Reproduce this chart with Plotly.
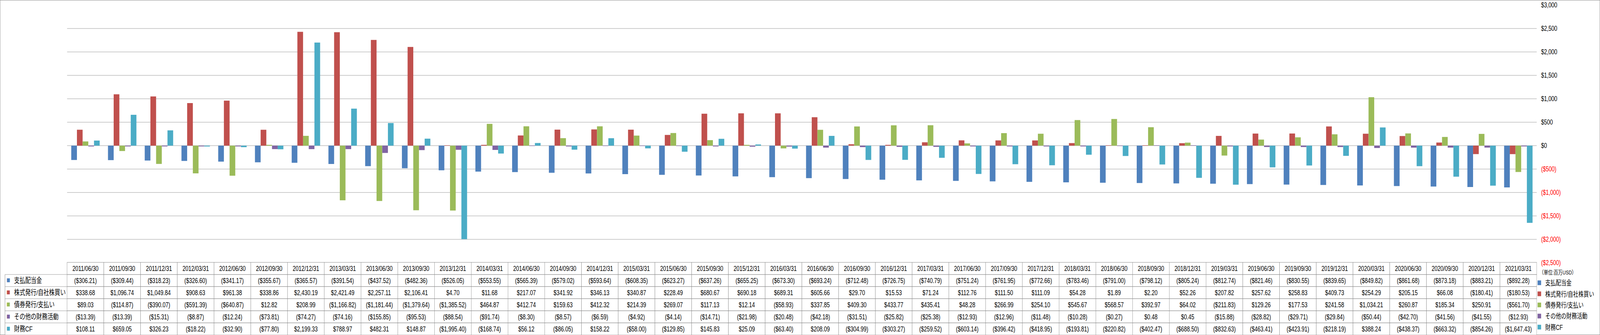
import plotly.graph_objects as go

W, H = 5461, 858

dates = ["2011/06/30", "2011/09/30", "2011/12/31", "2012/03/31", "2012/06/30", "2012/09/30",
         "2012/12/31", "2013/03/31", "2013/06/30", "2013/09/30", "2013/12/31", "2014/03/31",
         "2014/06/30", "2014/09/30", "2014/12/31", "2015/03/31", "2015/06/30", "2015/09/30",
         "2015/12/31", "2016/03/31", "2016/06/30", "2016/09/30", "2016/12/31", "2017/03/31",
         "2017/06/30", "2017/09/30", "2017/12/31", "2018/03/31", "2018/06/30", "2018/09/30",
         "2018/12/31", "2019/03/31", "2019/06/30", "2019/09/30", "2019/12/31", "2020/03/31",
         "2020/06/30", "2020/09/30", "2020/12/31", "2021/03/31"]

dividends = [-306.21, -309.44, -318.23, -326.60, -341.17, -355.67, -365.57, -391.54, -437.52, -482.36,
             -526.05, -553.55, -565.39, -579.02, -593.64, -608.35, -623.27, -637.26, -655.25, -673.30,
             -693.24, -712.48, -726.75, -740.79, -751.24, -761.95, -772.66, -783.46, -791.00, -798.12,
             -805.24, -812.74, -821.46, -830.55, -839.65, -849.82, -861.68, -873.18, -883.21, -892.28]

stock = [338.68, 1096.74, 1049.84, 908.63, 961.38, 338.86, 2430.19, 2421.49, 2257.11, 2106.41,
         4.70, 11.68, 217.07, 341.92, 346.13, 340.87, 228.49, 680.67, 690.18, 689.31,
         605.66, 29.70, 15.53, 71.24, 112.76, 111.50, 111.09, 54.28, 1.89, 2.20,
         52.26, 207.82, 257.62, 258.83, 409.73, 254.29, 205.15, 66.08, -180.41, -180.53]

debt = [89.03, -114.87, -390.07, -591.39, -640.87, 12.82, 208.99, -1166.82, -1181.44, -1379.64,
        -1385.52, 464.87, 412.74, 159.63, 412.32, 214.39, 269.07, 117.13, 12.14, -58.93,
        337.85, 409.30, 433.77, 435.41, 48.28, 266.99, 254.10, 545.67, 568.57, 392.97,
        64.02, -211.83, 129.26, 177.53, 241.58, 1034.21, 260.87, 185.34, 250.91, -561.70]

other = [-13.39, -13.39, -15.31, -8.87, -12.24, -73.81, -74.27, -74.16, -155.85, -95.53,
         -88.54, -91.74, -8.30, -8.57, -6.59, -4.92, -4.14, -14.71, -21.98, -20.48,
         -42.18, -31.51, -25.82, -25.38, -12.93, -12.96, -11.48, -10.28, -0.27, 0.48,
         0.45, -15.88, -28.82, -29.71, -29.84, -50.44, -42.70, -41.56, -41.55, -12.93]

fin_cf = [108.11, 659.05, 326.23, -18.22, -32.90, -77.80, 2199.33, 788.97, 482.31, 148.87,
          -1995.40, -168.74, 56.12, -86.05, 158.22, -58.00, -129.85, 145.83, 25.09, -63.40,
          208.09, -304.99, -303.27, -259.52, -603.14, -396.42, -418.95, -193.81, -220.82, -402.47,
          -688.50, -832.63, -463.41, -423.91, -218.19, 388.24, -438.37, -663.32, -854.26, -1647.43]

series_names = ["支払配当金", "株式発行/自社株買い", "債券発行/支払い", "その他の財務活動", "財務CF"]
series_values = [dividends, stock, debt, other, fin_cf]
colors = ["#4F81BD", "#C0504D", "#9BBB59", "#8064A2", "#4BACC6"]

y_ticks = [3000, 2500, 2000, 1500, 1000, 500, 0, -500, -1000, -1500, -2000, -2500]
unit_label = "（単位:百万USD）"

GRID = "#8C8C8C"
NONE = "rgba(0,0,0,0)"
FONT = "Liberation Sans, Noto Sans CJK JP, sans-serif"


def money(v, decimals=2):
    s = f"${abs(v):,.{decimals}f}"
    return f"({s})" if v < 0 else s


def tick_text(v):
    s = money(v, 0)
    return f'<span style="color:#FF0000">{s}</span>' if v < 0 else s


# pixel geometry of the reference (converted to fractions of the figure)
plot_left, plot_right = 229, 5245
plot_top, plot_bottom = 13, 673
table_left, key_right = 17, 40
row_h = 31
table_top = H - 6 * row_h
n = len(dates)

fig = go.Figure()

for name, vals, col in zip(series_names, series_values, colors):
    fig.add_trace(go.Bar(
        x=dates, y=vals, name=name, marker=dict(color=col, line=dict(width=0)),
        legendgroup=name, xaxis="x", yaxis="y",
    ))

# data table: legend-key column, label column, one column per quarter
key_cells = ["■"] * len(series_names)
cell_columns = [key_cells, series_names] + [[money(v[i]) for v in series_values] for i in range(n)]
col_widths = [key_right - table_left, plot_left - key_right] + [(plot_right - plot_left) / n] * n
line_colors = [NONE, NONE] + [GRID] * n
font_colors = [colors, "black"] + ["black"] * n
font_sizes = [13, 19] + [18] * n
font_families = ["DejaVu Sans", FONT] + [FONT] * n

fig.add_trace(go.Table(
    domain=dict(x=[table_left / W, plot_right / W], y=[0, (H - table_top) / H]),
    columnwidth=col_widths,
    header=dict(values=["", ""] + dates, height=row_h, align="center",
                fill=dict(color="white"),
                line=dict(color=line_colors, width=1),
                font=dict(family=FONT, size=18, color="black")),
    cells=dict(values=cell_columns, height=row_h,
               align=["center", "left"] + ["center"] * n,
               fill=dict(color="white"),
               line=dict(color=line_colors, width=1),
               font=dict(family=font_families, size=font_sizes, color=font_colors)),
))

# borders of the row-label cells
shapes = [dict(type="rect", xref="paper", yref="paper", x0=0, x1=1, y0=0, y1=1,
               line=dict(color=GRID, width=2), fillcolor=NONE, layer="below")]
for k in range(1, 7):
    yk = 1 - (table_top + row_h * k) / H
    shapes.append(dict(type="line", xref="paper", yref="paper", x0=table_left / W,
                       x1=plot_left / W, y0=yk, y1=yk, line=dict(color=GRID, width=1)))
shapes.append(dict(type="line", xref="paper", yref="paper", x0=table_left / W, x1=table_left / W,
                   y0=0, y1=1 - (table_top + row_h) / H, line=dict(color=GRID, width=1)))

annotations = [dict(text=unit_label, xref="paper", yref="paper", x=5252 / W, y=1 - 697 / H,
                    xanchor="left", yanchor="middle", showarrow=False,
                    font=dict(family=FONT, size=15, color="black"))]

fig.update_layout(
    width=W, height=H,
    margin=dict(l=0, r=0, t=0, b=0, autoexpand=False),
    paper_bgcolor="white", plot_bgcolor="white",
    barmode="group", bargap=0.226, bargroupgap=0,
    font=dict(family=FONT, size=18, color="black"),
    xaxis=dict(domain=[plot_left / W, plot_right / W], showticklabels=False, showgrid=False,
               zeroline=False, showline=False, ticks="", range=[-0.5, n - 0.5]),
    yaxis=dict(domain=[(H - plot_bottom) / H, (H - plot_top) / H], side="right",
               range=[-2500, 3000], tickvals=y_ticks, ticktext=[tick_text(v) for v in y_ticks],
               showgrid=True, gridcolor=GRID, gridwidth=1, zeroline=True, zerolinecolor=GRID,
               zerolinewidth=1, showline=False, ticks="", ticklabelstandoff=14,
               tickfont=dict(family=FONT, size=18, color="black")),
    legend=dict(x=5234 / W, y=1 - 706 / H, xanchor="left", yanchor="top",
                traceorder="grouped", tracegroupgap=2, bgcolor=NONE,
                font=dict(family=FONT, size=18, color="black"), itemwidth=30),
    showlegend=True,
    annotations=annotations,
    shapes=shapes,
)

# page styling: no body margin / scrollbars; if the window is narrower than the
# figure, fit the figure to the window width
post = ("document.documentElement.style.overflow='hidden';"
        "document.body.style.margin='0';document.body.style.overflow='hidden';"
        "var gd=document.getElementById('{plot_id}');"
        "var sx=Math.min(1, window.innerWidth/" + str(W) + ");"
        "if(sx<1){gd.style.transformOrigin='0 0';gd.style.transform='scale('+sx+',1)';}")

fig.write_html("out.html", config={"displayModeBar": False}, post_script=post)
